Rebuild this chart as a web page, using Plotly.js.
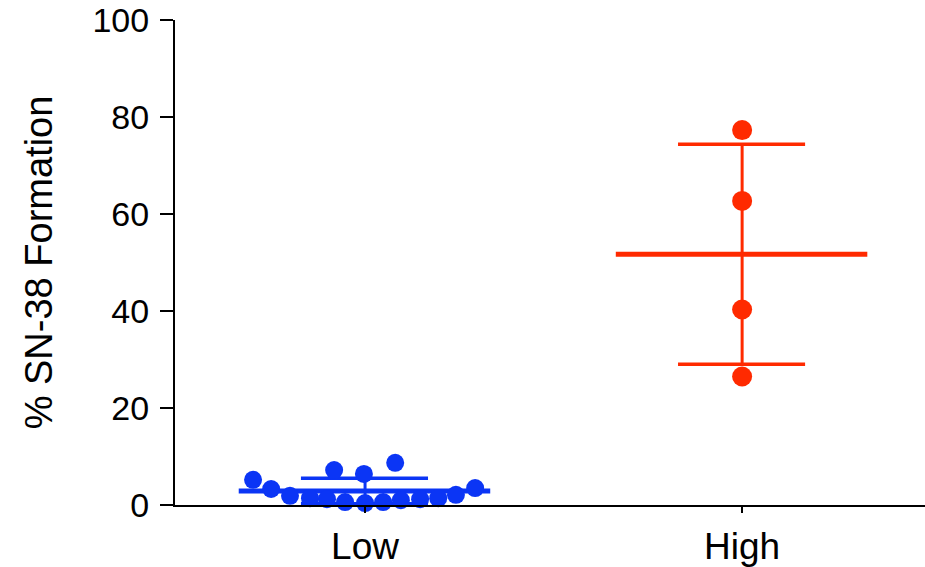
<!DOCTYPE html>
<html><head><meta charset="utf-8">
<script src="https://cdn.plot.ly/plotly-3.0.1.min.js"></script>
<style>html,body{margin:0;padding:0;background:#fff;}</style>
</head><body>
<div id="chart" style="width:925px;height:567px;"></div>
<script>
const categories = ["Low", "High"];
const lowValues = [5.2, 3.3, 1.9, 1.4, 1.2, 7.2, 0.6, 6.4, 0.4, 0.6, 8.7, 1.0, 1.2, 1.4, 2.1, 3.5];
const lowJitter = [-0.297, -0.249, -0.199, -0.146, -0.101, -0.082, -0.053, -0.003, 0.0, 0.048, 0.080, 0.095, 0.146, 0.194, 0.241, 0.292];
const highValues = [77.3, 62.7, 40.3, 26.5];
const highJitter = [0, 0, 0, 0];
const yTicks = [0, 20, 40, 60, 80, 100];

const blue = "#0b35f5";
const red = "#ff2a00";

function stats(a){
  const m = a.reduce((s,v)=>s+v,0)/a.length;
  const sd = Math.sqrt(a.reduce((s,v)=>s+(v-m)*(v-m),0)/(a.length-1));
  return {m, sd};
}
const groups = [
  {vals: lowValues, jit: lowJitter, color: blue, size: 18},
  {vals: highValues, jit: highJitter, color: red, size: 20}
];
const traces = [];
groups.forEach((g, i) => {
  const s = stats(g.vals);
  traces.push({x:[i,i], y:[Math.max(s.m - s.sd, 0), s.m + s.sd], mode:"lines", line:{color:g.color, width:3}, hoverinfo:"skip", cliponaxis:false});
  traces.push({x:[i-0.17,i+0.167], y:[s.m + s.sd, s.m + s.sd], mode:"lines", line:{color:g.color, width:3.5}, hoverinfo:"skip"});
  traces.push({x:[i-0.17,i+0.167], y:[s.m - s.sd, s.m - s.sd], mode:"lines", line:{color:g.color, width:3.5}, hoverinfo:"skip"});
  traces.push({x:[i-0.335,i+0.332], y:[s.m, s.m], mode:"lines", line:{color:g.color, width:5}, hoverinfo:"skip"});
  traces.push({x:g.jit.map(j=>i+j), y:g.vals, mode:"markers", marker:{color:g.color, size:g.size}, cliponaxis:false, name:categories[i]});
});

const layout = {
  width:925, height:567,
  margin:{l:175, r:0, t:20, b:62},
  showlegend:false,
  paper_bgcolor:"#fff", plot_bgcolor:"#fff",
  font:{family:"Liberation Sans, Arial, sans-serif", size:34, color:"#000"},
  xaxis:{
    range:[-0.504, 1.485], tickvals:[0,1], ticktext:categories,
    showgrid:false, zeroline:false, showline:true, linecolor:"#000", linewidth:2,
    ticks:"outside", ticklen:6, tickwidth:2, tickcolor:"#000",
    tickfont:{size:37}, ticklabelstandoff:2, fixedrange:true
  },
  yaxis:{
    range:[0,100], tickvals:yTicks,
    showgrid:false, zeroline:false, showline:true, linecolor:"#000", linewidth:2,
    ticks:"outside", ticklen:13, tickwidth:2, tickcolor:"#000",
    tickfont:{size:34}, ticklabelstandoff:4,
    title:{text:"% SN-38 Formation", font:{size:38}, standoff:28}
  }
};
Plotly.newPlot("chart", traces, layout, {displayModeBar:false, staticPlot:true});
</script>
</body></html>
